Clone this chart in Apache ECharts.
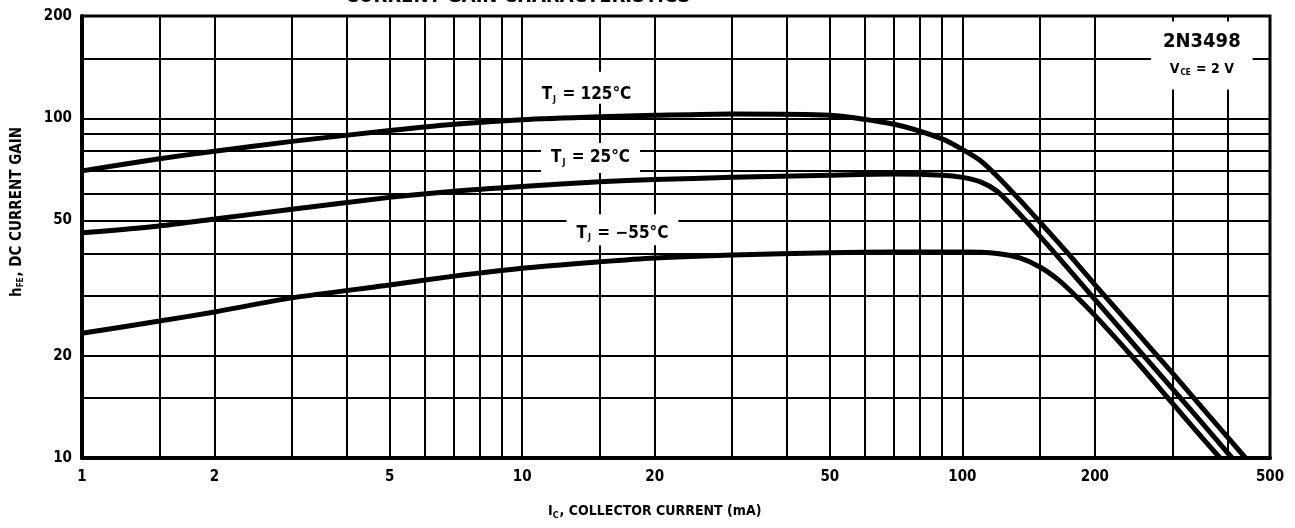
<!DOCTYPE html>
<html><head><meta charset="utf-8">
<script src="https://cdn.jsdelivr.net/npm/echarts@6/dist/echarts.min.js"></script>
<style>html,body{margin:0;padding:0;background:#fff}#c{width:1295px;height:528px}</style>
</head><body><div id="c"></div>
<script>
// grid lines and tick labels
const xGrid = [1,1.5,2,3,4,5,6,7,8,9,10,15,20,30,40,50,60,70,80,90,100,150,200,300,400,500];
const yGrid = [10,15,20,30,40,50,60,70,80,90,100,150,200];
const xTicks = [1,2,5,10,20,50,100,200,500];
const yTicks = [10,20,50,100,200];

// TJ = 125 °C
const ic125  = [1,1.5,2,3,5,7,10,15,20,30,50,70,90,100,110,120,135,150,175,200,250,300,350,440];
const hfe125 = [70,76,80,85.5,92,96,99,101,102,103,102,96,87,81,75,67.5,57.5,49.5,39.6,32.4,23.3,17.8,14.1,10];
// TJ = 25 °C
const ic25   = [1,1.5,2,3,5,7,10,15,20,30,50,70,90,100,110,120,130,150,175,200,250,300,350,410];
const hfe25  = [46,48.2,50.5,54,58.5,61,63,65,66,67,68,68.5,68,67,65,61,55,45,35.8,29.3,21,16,12.7,10];
// TJ = -55 °C
const icm55  = [1,1.5,2,3,5,7,10,15,20,30,50,70,100,120,135,150,165,180,200,250,300,350,385];
const hfem55 = [23.3,25.3,26.9,29.6,32.3,34.3,36.2,37.8,38.8,39.6,40.2,40.4,40.4,40,38.8,36.5,33.5,30.2,26.3,19.1,14.5,11.5,10];

const F = '"DejaVu Sans Condensed","DejaVu Sans",sans-serif';
const pairs = (xs, ys) => xs.map((x, i) => [x, ys[i]]);
const txt = (size) => ({fontSize: size, fontWeight: 'bold', fontFamily: F, color: '#000'});

function curve(name, xs, ys) {
  return {
    name, type: 'line', data: pairs(xs, ys), symbol: 'none', smooth: 0.25,
    lineStyle: {color: '#000', width: 5}, z: 3, silent: true
  };
}
function tjLabel(coord, t, pad) {
  return {
    coord, symbol: 'circle', symbolSize: 1, itemStyle: {color: 'rgba(0,0,0,0)'},
    label: {
      show: true, position: 'inside', backgroundColor: '#fff', padding: pad,
      formatter: '{t|T}{s|J}{t| = ' + t + '}',
      rich: {t: txt(17), s: Object.assign(txt(9), {padding: [9, 1, 0, 1]})}
    }
  };
}

const chart = echarts.init(document.getElementById('c'), null, {renderer: 'canvas'});
chart.setOption({
  animation: false,
  backgroundColor: '#fff',
  grid: {left: 82, right: 25, top: 16, bottom: 70, show: true, borderColor: '#000', borderWidth: 3},
  xAxis: {
    type: 'log', logBase: 10, min: 1, max: 500,
    axisLine: {show: true, onZero: false, lineStyle: {color: '#000', width: 4}},
    axisTick: {show: false}, splitLine: {show: false},
    axisLabel: Object.assign({customValues: xTicks, margin: 12, formatter: v => String(v)}, txt(15))
  },
  yAxis: {
    type: 'log', logBase: 10, min: 10, max: 200,
    axisLine: {show: true, onZero: false, lineStyle: {color: '#000', width: 4}},
    axisTick: {show: false}, splitLine: {show: false},
    axisLabel: Object.assign({customValues: yTicks, margin: 10, formatter: v => String(v)}, txt(15))
  },
  series: [
    {
      type: 'line', data: [], z: 1, silent: true,
      markLine: {
        silent: true, symbol: 'none', label: {show: false}, animation: false,
        lineStyle: {color: '#000', width: 2, type: 'solid'},
        data: xGrid.map(v => ({xAxis: v})).concat(yGrid.map(v => ({yAxis: v})))
      }
    },
    curve('125', ic125, hfe125),
    curve('25', ic25, hfe25),
    curve('-55', icm55, hfem55),
    {
      type: 'line', data: [], z: 4, silent: true,
      markPoint: {
        silent: true, animation: false,
        data: [
          tjLabel([14, 123], '125°C', [14, 4, 0, 4]),
          tjLabel([14.3, 76.4], '25°C', [6, 10, 6, 10]),
          tjLabel([16.9, 47], '−55°C', [10, 10, 3, 10]),
          {
            coord: [350, 153], symbol: 'circle', symbolSize: 1, itemStyle: {color: 'rgba(0,0,0,0)'},
            label: {
              show: true, position: 'inside', backgroundColor: '#fff', padding: [5, 12, 7, 12],
              formatter: '{b|2N3498}\n{v|V}{s|CE}{v| = 2 V}',
              rich: {
                b: Object.assign(txt(20), {lineHeight: 30}),
                v: Object.assign(txt(14), {lineHeight: 26}),
                s: Object.assign(txt(8), {padding: [7, 1, 0, 1]})
              }
            }
          }
        ]
      }
    }
  ],
  graphic: [
    {
      type: 'text', x: 548, y: 503, silent: true,
      style: {text: '{a|I}{s|C}{a|, COLLECTOR CURRENT (mA)}', rich: {a: txt(14), s: Object.assign(txt(9), {padding: [8, 1, 0, 0]})}}
    },
    {
      type: 'text', x: 17, y: 212, rotation: Math.PI / 2, silent: true,
      style: {text: '{a|h}{s|FE}{a|, DC CURRENT GAIN}', align: 'center', verticalAlign: 'middle',
        rich: {a: txt(15), s: Object.assign(txt(8), {padding: [8, 1, 0, 0]})}}
    },
    {
      type: 'text', x: 518, y: 7, silent: true,
      style: {text: 'CURRENT GAIN CHARACTERISTICS', align: 'center', verticalAlign: 'bottom',
        font: 'bold 20px "DejaVu Sans Condensed"', fill: '#000'}
    }
  ]
});
</script>
</body></html>
